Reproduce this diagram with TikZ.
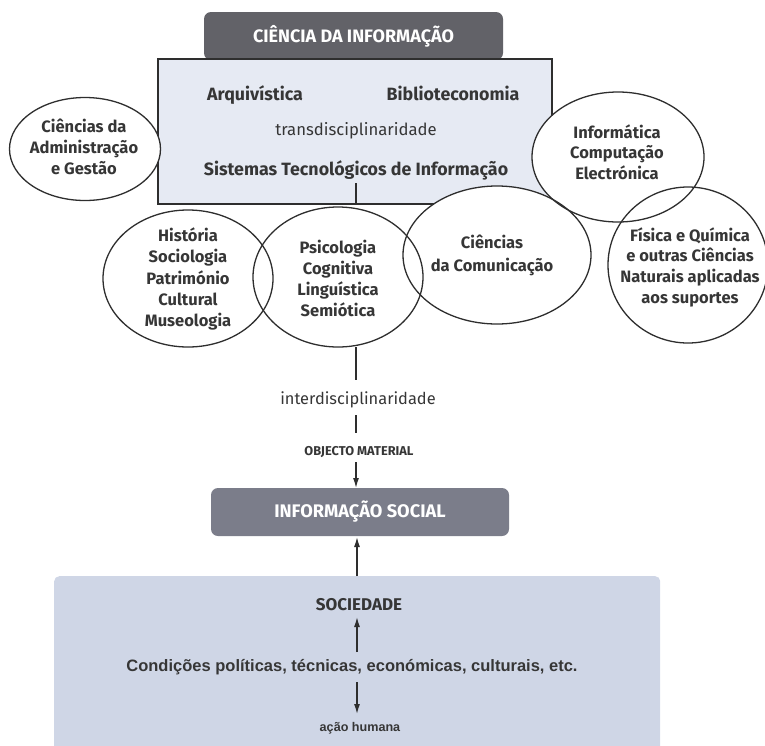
\documentclass[tikz,border=0pt]{standalone}
\usepackage{fontspec}
\setmainfont{Fira Sans}
\newfontfamily\arialf{Liberation Sans}
\usetikzlibrary{shapes.geometric,arrows.meta,calc}
\definecolor{txt}{HTML}{363636}
\definecolor{lineC}{HTML}{2E2E2E}
\definecolor{darkA}{HTML}{626268}
\definecolor{darkB}{HTML}{7B7D8A}
\definecolor{lightA}{HTML}{E6EAF3}
\definecolor{lightB}{HTML}{CFD6E6}
\tikzset{
  ell/.style={ellipse, fill=white, inner sep=0pt, outer sep=0pt},
  etxt/.style={align=center, text=txt, inner sep=0pt, font=\bfseries\fontsize{16.5}{20.7}\selectfont},
  ring/.style={draw=lineC, line width=1.3pt},
  lbl/.style={text=txt, inner sep=0pt, font=\bfseries\fontsize{17.8}{20}\selectfont},
  rlbl/.style={text=txt, inner sep=0pt, font=\fontsize{16.7}{20}\selectfont},
  conn/.style={draw=lineC, line width=1.3pt},
  arr/.style={conn, -{Latex[length=10pt,width=6pt]}},
}
\begin{document}
\begin{tikzpicture}[x=1pt,y=-1pt]
\useasboundingbox (0,0) rectangle (765,745);
% top title box
\node[fill=darkA, rounded corners=7pt, minimum width=299pt, minimum height=48pt, inner sep=0pt,
  text=white, font=\bfseries\fontsize{18}{20}\selectfont] (ci) at (353.5,36) {CIÊNCIA DA INFORMAÇÃO};
% light box
\node[fill=lightA, draw=lineC, line width=1.3pt, minimum width=394pt, minimum height=145pt, inner sep=0pt] (tbox) at (355,131.5) {};
\node[lbl] (arq) at (255,95) {Arquivística};
\node[lbl] (bib) at (453,93) {Biblioteconomia};
\node[rlbl] (trans) at (356,131) {transdisciplinaridade};
\node[lbl] (sti) at (356,170) {Sistemas Tecnológicos de Informação};
% ellipses (white fills)
\node[ell, minimum width=151pt, minimum height=103pt] (adm) at (85,149) {};
\node[ell, minimum width=172pt, minimum height=130pt] (inf) at (618,157) {};
\node[ell, minimum width=160pt, minimum height=156pt] (fis) at (688,265) {};
\node[ell, minimum width=170pt, minimum height=137pt] (his) at (188,278.5) {};
\node[ell, minimum width=170pt, minimum height=140pt] (psi) at (338,277) {};
\node[ell, minimum width=188pt, minimum height=138pt] (com) at (497,255) {};
% ellipse texts
\node[etxt] (admT) at (84,147) {Ciências da\\Administração\\e Gestão};
\node[etxt] (infT) at (617,152) {Informática\\Computação\\Electrónica};
\node[etxt] (fisT) at (690,267) {Física e Química\\e outras Ciências\\Naturais aplicadas\\aos suportes};
\node[etxt, font=\bfseries\fontsize{16.5}{21.2}\selectfont] (hisT) at (188,279) {História\\Sociologia\\Património\\Cultural\\Museologia};
\node[etxt, font=\bfseries\fontsize{16.5}{21}\selectfont] (psiT) at (338,278) {Psicologia\\Cognitiva\\Linguística\\Semiótica};
\node[etxt, font=\bfseries\fontsize{16.5}{23}\selectfont] (comT) at (492,255) {Ciências\\da Comunicação};
% outlines on top so overlaps show
\foreach \nm in {adm,inf,fis,his,psi,com}{
  \draw[ring] let \p1=(\nm.east), \p2=(\nm.north), \p3=(\nm.center) in
    (\p3) ellipse ({\x1-\x3} and {\y2-\y3});
}
% vertical chain
\node[rlbl, font=\fontsize{16.4}{20}\selectfont] (inter) at (358,400) {interdisciplinaridade};
\node[text=txt, inner sep=0pt, font=\bfseries\fontsize{12.8}{14}\selectfont] (obj) at (359,452) {OBJECTO MATERIAL};
\node[fill=darkB, rounded corners=7pt, minimum width=298pt, minimum height=48pt, inner sep=0pt,
  text=white, font=\bfseries\fontsize{18.2}{20}\selectfont] (isoc) at (360,512) {INFORMAÇÃO SOCIAL};
\coordinate (c1) at (356,183);
\coordinate (c1b) at (356,204);
\coordinate (c2) at (356,347);
\coordinate (c2b) at (356,380);
\coordinate (c3) at (356,415);
\coordinate (c3b) at (356,433);
\coordinate (c4) at (356,462);
\coordinate (c4b) at (356,488);
\draw[conn] (c1) -- (c1b);
\draw[conn] (c2) -- (c2b);
\draw[conn] (c3) -- (c3b);
\draw[arr] (c4) -- (c4b);
% bottom box
\node[fill=lightB, rounded corners=5pt, minimum width=606pt, minimum height=190pt, inner sep=0pt, anchor=north west] (sbox) at (54,576) {};
\node[lbl, font=\bfseries\fontsize{17}{20}\selectfont] (soc) at (359,605) {SOCIEDADE};
\node[text=txt, inner sep=0pt, font=\arialf\bfseries\fontsize{16.5}{18}\selectfont] (cond) at (352,667) {Condições políticas, técnicas, económicas, culturais, etc.};
\node[text=txt, inner sep=0pt, font=\arialf\bfseries\fontsize{12.6}{14}\selectfont] (acao) at (360,728) {ação humana};
\coordinate (c5) at (357,576);
\coordinate (c5b) at (357,537);
\coordinate (c6) at (357,652);
\coordinate (c6b) at (357,617);
\coordinate (c7) at (357,682);
\coordinate (c7b) at (357,714);
\draw[arr] (c5) -- (c5b);
\draw[arr] (c6) -- (c6b);
\draw[arr] (c7) -- (c7b);
\end{tikzpicture}
\end{document}
